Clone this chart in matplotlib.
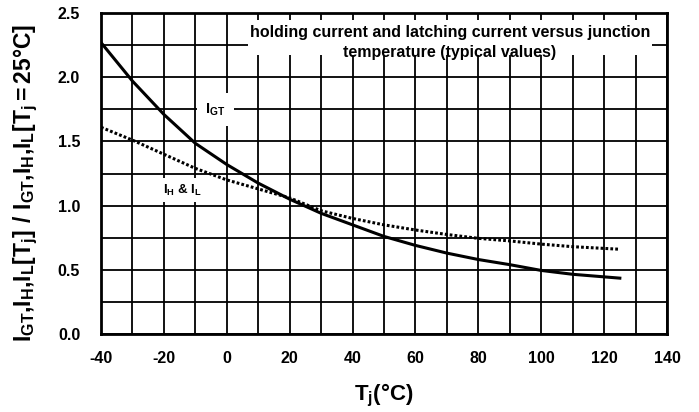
import matplotlib
matplotlib.use("Agg")
import matplotlib.pyplot as plt
import numpy as np

plt.rcParams["font.family"] = ["Liberation Sans", "DejaVu Sans"]
plt.rcParams["font.weight"] = "bold"
plt.rcParams["mathtext.fontset"] = "custom"
plt.rcParams["mathtext.rm"] = "Liberation Sans:bold"
plt.rcParams["mathtext.it"] = "Liberation Sans:bold"
plt.rcParams["mathtext.bf"] = "Liberation Sans:bold"

# Junction temperature (°C)
tj = [-40, -30, -20, -10, 0, 10, 20, 30, 40, 50, 60, 70, 80, 90, 100, 110, 125]
# Gate trigger current, normalised to Tj = 25 °C
igt = [2.27, 1.97, 1.71, 1.485, 1.32, 1.175, 1.05, 0.94, 0.85, 0.76, 0.69, 0.63, 0.58, 0.54, 0.495, 0.465, 0.435]
# Holding & latching current, normalised to Tj = 25 °C
ih_il = [1.61, 1.51, 1.40, 1.29, 1.20, 1.13, 1.06, 0.96, 0.90, 0.85, 0.81, 0.775, 0.745, 0.725, 0.70, 0.68, 0.66]

x_ticks = [-40, -20, 0, 20, 40, 60, 80, 100, 120, 140]
y_ticks = [0.0, 0.5, 1.0, 1.5, 2.0, 2.5]

fig = plt.figure(figsize=(6.99, 4.12), dpi=100)
ax = fig.add_axes([101 / 699, 1 - 334 / 412, 566 / 699, 321 / 412])

ax.set_xlim(-40, 140)
ax.set_ylim(0, 2.5)
ax.set_xticks(x_ticks)
ax.set_yticks(y_ticks)
ax.set_xticklabels([f"{v}" for v in x_ticks])
ax.set_yticklabels([f"{v:.1f}" for v in y_ticks])
ax.set_xticks(np.arange(-40, 141, 10), minor=True)
ax.set_yticks(np.arange(0, 2.51, 0.25), minor=True)
ax.tick_params(which="both", length=0)
ax.tick_params(axis="x", pad=12, labelsize=11.5)
ax.tick_params(axis="y", pad=15, labelsize=11.5)
ax.grid(which="both", color="black", linewidth=1.3)
ax.set_axisbelow(True)
for s in ax.spines.values():
    s.set_linewidth(2)

ax.plot(tj, igt, color="black", linewidth=2.2, zorder=3)
ax.plot(tj, ih_il, color="black", linewidth=2.2, linestyle=(0, (0.9, 0.7)), zorder=3)

# Title block
ax.add_patch(plt.Rectangle((6.8, 2.175), 128.5, 0.27, facecolor="white",
                           edgecolor="none", zorder=2))
ax.text(71, 2.345, "holding current and latching current versus junction",
        ha="center", va="center", fontsize=11.5, fontweight="bold", zorder=4)
ax.text(71, 2.19, "temperature (typical values)",
        ha="center", va="center", fontsize=11.5, fontweight="bold", zorder=4)

# Curve labels
ax.text(-3.7, 1.745, r"$\mathregular{I_{GT}}$", ha="center", va="center", fontsize=10.5,
        zorder=4, bbox=dict(facecolor="white", edgecolor="none", pad=6))
ax.text(-14, 1.12, r"$\mathregular{I_H}$ & $\mathregular{I_L}$", ha="center", va="center",
        fontsize=9.5, zorder=4, bbox=dict(facecolor="white", edgecolor="none", pad=3))

ax.set_xlabel(r"$\mathregular{T_j}$(°C)", fontsize=16, fontweight="bold", labelpad=12)
ax.set_ylabel(r"$\mathregular{I_{GT}{,}I_H{,}I_L[T_j]\ /\ I_{GT}{,}I_H{,}I_L[T_j{=}25°C]}$",
              fontsize=16.5, fontweight="bold")
ax.yaxis.set_label_coords(-0.107, 0.47)

fig.savefig("out.png", dpi=100)
